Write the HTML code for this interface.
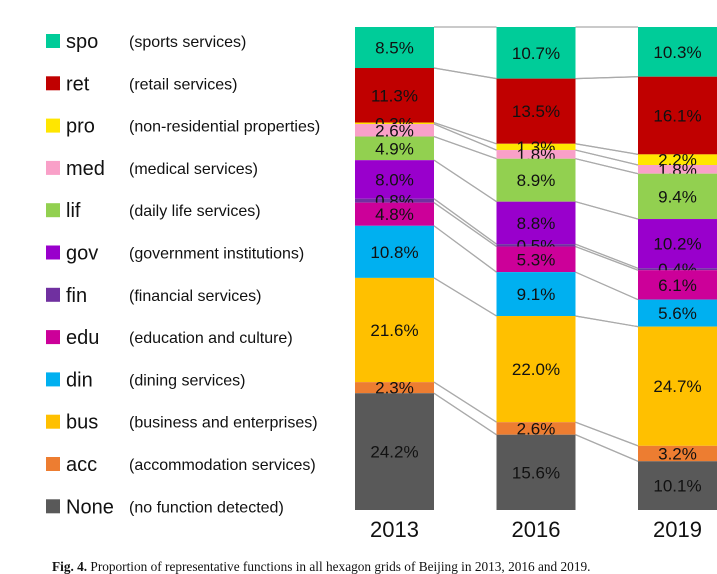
<!DOCTYPE html>
<html><head><meta charset="utf-8"><style>
body{margin:0;background:#fff;width:717px;height:574px;overflow:hidden;font-family:"Liberation Sans","DejaVu Sans",sans-serif}
svg{position:absolute;left:0;top:0}
</style></head><body>
<svg id="c" width="717" height="574"></svg>
<script>
const years=["2013","2016","2019"];
const codes=["spo","ret","pro","med","lif","gov","fin","edu","din","bus","acc","None"];
const descs=["(sports services)","(retail services)","(non-residential properties)","(medical services)","(daily life services)","(government institutions)","(financial services)","(education and culture)","(dining services)","(business and enterprises)","(accommodation services)","(no function detected)"];
const colors=["#00CC99","#C00000","#FFE600","#F9A0C8","#92D050","#9900CC","#7030A0","#CC0099","#00B0F0","#FFC000","#ED7D31","#595959"];
const v2013=[8.5,11.3,0.3,2.6,4.9,8.0,0.8,4.8,10.8,21.6,2.3,24.2];
const v2016=[10.7,13.5,1.3,1.8,8.9,8.8,0.5,5.3,9.1,22.0,2.6,15.6];
const v2019=[10.3,16.1,2.2,1.8,9.4,10.2,0.4,6.1,5.6,24.7,3.2,10.1];
const series=[v2013,v2016,v2019];
const NS="http://www.w3.org/2000/svg";
const svg=document.getElementById('c');
function mk(t,a,p){const e=document.createElementNS(NS,t);for(const k in a)e.setAttribute(k,a[k]);(p||svg).appendChild(e);return e;}
const top0=27,bot=510,bw=79;
const xPos=i=>355+i*141.5;
const yScale=f=>top0+f*(bot-top0);
const bounds=series.map(vals=>{const s=vals.reduce((a,b)=>a+b,0);let c=0;return vals.map(v=>{const a=c;c+=v;return [yScale(a/s),yScale(c/s)];});});
// connectors
for(let i=0;i<2;i++){for(let k=0;k<codes.length;k++){for(const j of [0,1]){
 if(j==1&&k==codes.length-1)continue;
 const l=mk('line',{x1:xPos(i)+bw,y1:bounds[i][k][j],x2:xPos(i+1),y2:bounds[i+1][k][j],stroke:'#aaa','stroke-width':1.2});
 
 
}}}
series.forEach((vals,i)=>{
 const g=mk('g',{});
 
 
 vals.forEach((v,k)=>{
  const [a,b]=bounds[i][k];
  const r=mk('rect',{x:xPos(i),y:a,width:bw,height:b-a,fill:colors[k]},g);
  
  
  const t=mk('text',{x:xPos(i)+bw/2,y:(a+b)/2+6,'text-anchor':'middle','font-size':17,fill:'#111'},g);
  t.textContent=v.toFixed(1)+'%';
  
  
 });
 const yl=mk('text',{x:xPos(i)+bw/2,y:537,'text-anchor':'middle','font-size':22,fill:'#111'});
 yl.textContent=years[i];
 
 
});
// legend
codes.forEach((c,k)=>{
 const y=41+k*42.3;
 const g=mk('g',{});
 
 
 mk('rect',{x:46,y:y-7,width:14,height:14,fill:colors[k]},g);
 const t=mk('text',{x:66,y:y+7,'font-size':20,fill:'#111'},g);t.textContent=c;
 const d=mk('text',{x:129,y:y+6,'font-size':16,fill:'#111'},g);d.textContent=descs[k];
});
const cap=mk('text',{x:52,y:571,'font-size':13.3,fill:'#111','font-family':'Liberation Serif, serif'});


cap.innerHTML='<tspan font-weight="bold">Fig. 4.</tspan> Proportion of representative functions in all hexagon grids of Beijing in 2013, 2016 and 2019.';
</script>
</body></html>
